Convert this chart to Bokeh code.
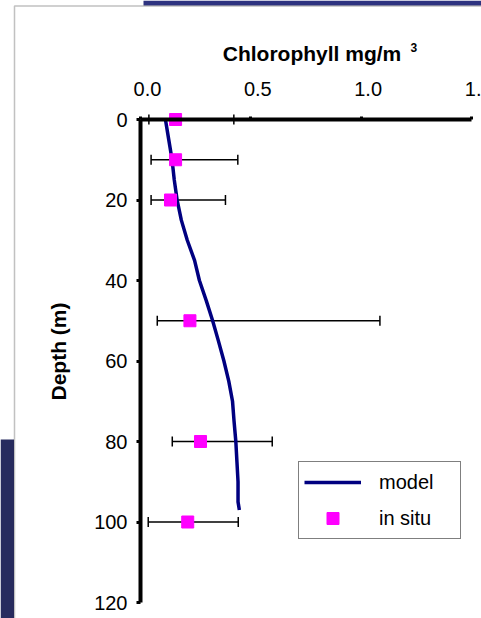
import math
from bokeh.plotting import figure
from bokeh.models import (Range1d, LinearAxis, FixedTicker, Whisker, TeeHead,
                          ColumnDataSource, Label, BoxAnnotation)
from bokeh.embed import file_html
from bokeh.resources import INLINE

# ---- data ----
model_depth = [0, 5, 10, 15, 20, 25, 30, 35, 40, 45, 50, 55, 60, 65, 70, 75, 80, 85, 90, 95, 97]
model_chl = [0.113, 0.128, 0.143, 0.153, 0.166, 0.185, 0.212, 0.245, 0.267, 0.298, 0.327,
             0.353, 0.378, 0.400, 0.417, 0.424, 0.432, 0.437, 0.442, 0.442, 0.448]

situ_depth = [0, 10, 20, 50, 80, 100]
situ_chl = [0.159, 0.159, 0.136, 0.224, 0.272, 0.214]
situ_low = [0.038, 0.048, 0.048, 0.076, 0.144, 0.035]
situ_high = [0.423, 0.441, 0.385, 1.085, 0.597, 0.443]

x_ticks = [0.0, 0.5, 1.0, 1.5]
x_tick_labels = ["0.0", "0.5", "1.0", "1."]   # last label is cut off at the page edge
y_ticks = [0, 20, 40, 60, 80, 100, 120]

FONT = "Liberation Sans"
W, H = 481, 618

# pixel layout of the plotting box (x 0..1.5 -> 140..471 px, depth 0..120 -> 119..602 px)
X0, SX = 140, 331 / 1.5
Y0, SY = 119, 483 / 120


def dx(px):
    return (px - X0) / SX


def dy(py):
    return (py - Y0) / SY


p = figure(width=W, height=H, output_backend="svg", toolbar_location=None,
           x_range=Range1d(dx(0), dx(W)), y_range=Range1d(dy(H), dy(0)),
           x_axis_location=None, y_axis_location=None, min_border=0)
p.outline_line_color = None
p.xgrid.visible = False
p.ygrid.visible = False
p.background_fill_color = "white"
p.border_fill_color = "white"

# decorations of the slide behind the chart
p.add_layout(BoxAnnotation(left=dx(143), right=dx(W), top=dy(0), bottom=dy(5),
                           fill_color="#2e3380", fill_alpha=1, line_color=None, level="underlay"))
p.add_layout(BoxAnnotation(left=dx(0), right=dx(13.5), top=dy(439), bottom=dy(H),
                           fill_color="#272b5e", fill_alpha=1, line_color=None, level="underlay"))
p.add_layout(BoxAnnotation(left=dx(14), right=dx(900), top=dy(5.5), bottom=dy(900),
                           fill_alpha=0, line_color="#333333", line_width=1.5, level="underlay"))

# top axis: line + tick nubs
xa = LinearAxis(ticker=FixedTicker(ticks=x_ticks), fixed_location=0, bounds=(0, 1.5))
xa.axis_line_width = 4
xa.axis_line_color = "black"
xa.major_tick_out = 3
xa.major_tick_in = 0
xa.major_tick_line_width = 3
xa.minor_tick_line_color = None
xa.major_label_text_color = None
p.add_layout(xa, "above")

# top axis labels (sit slightly right of the ticks, as in the reference)
shift = 7 / SX
p.extra_x_ranges = {"lab": Range1d(dx(0) - shift, dx(W) - shift)}
xl = LinearAxis(x_range_name="lab", ticker=FixedTicker(ticks=x_ticks), fixed_location=0,
                major_label_overrides={t: s for t, s in zip(x_ticks, x_tick_labels)})
xl.axis_line_color = None
xl.major_tick_line_color = None
xl.minor_tick_line_color = None
xl.major_tick_out = 0
xl.major_tick_in = 0
xl.major_label_standoff = 24
xl.major_label_text_font = FONT
xl.major_label_text_font_size = "20px"
xl.major_label_text_color = "black"
p.add_layout(xl, "above")

ya = LinearAxis(ticker=FixedTicker(ticks=y_ticks), fixed_location=0, bounds=(0, 120))
ya.axis_line_width = 4
ya.major_tick_out = 4
ya.major_tick_in = 0
ya.major_tick_line_width = 3
ya.minor_tick_line_color = None
ya.major_label_standoff = 9
ya.major_label_text_font = FONT
ya.major_label_text_font_size = "20px"
ya.major_label_text_color = "black"
p.add_layout(ya, "left")

# error bars
src = ColumnDataSource(dict(depth=situ_depth, chl=situ_chl, low=situ_low, high=situ_high))
p.add_layout(Whisker(source=src, base="depth", lower="low", upper="high", dimension="width",
                     line_color="black", line_width=1.5,
                     lower_head=TeeHead(size=10, line_width=1.5, line_color="black"),
                     upper_head=TeeHead(size=10, line_width=1.5, line_color="black")))

p.line(model_chl, model_depth, line_color="#000080", line_width=3.5, legend_label="model")
p.scatter("chl", "depth", source=src, marker="square", size=12, fill_color="#ff00ff",
          line_color="#ff00ff", legend_label="in situ")

lg = p.legend[0]
lg.location = (298, H - 539)
lg.margin = 0
lg.padding = 5
lg.spacing = 6
lg.glyph_width = 57
lg.glyph_height = 30
lg.label_height = 30
lg.label_width = 76
lg.label_standoff = 18
lg.label_text_font = FONT
lg.label_text_font_size = "20px"
lg.label_text_color = "black"
lg.border_line_color = "black"
lg.border_line_width = 1
lg.background_fill_color = "white"
lg.background_fill_alpha = 1

# axis titles
p.add_layout(Label(x=dx(311.5), y=dy(53.3), text="Chlorophyll mg/m", text_align="center",
                   text_baseline="alphabetic", text_font=FONT, text_font_size="21px",
                   text_font_style="bold", text_color="black"))
p.add_layout(Label(x=dx(410), y=dy(47), text="3", text_align="left",
                   text_baseline="alphabetic", text_font=FONT, text_font_size="12px",
                   text_font_style="bold", text_color="black"))
p.add_layout(Label(x=dx(58), y=dy(351), text="Depth (m)", angle=math.pi / 2,
                   text_align="center", text_baseline="middle", text_font=FONT,
                   text_font_size="21px", text_font_style="bold", text_color="black"))

open("out.html", "w").write(file_html(p, INLINE))
